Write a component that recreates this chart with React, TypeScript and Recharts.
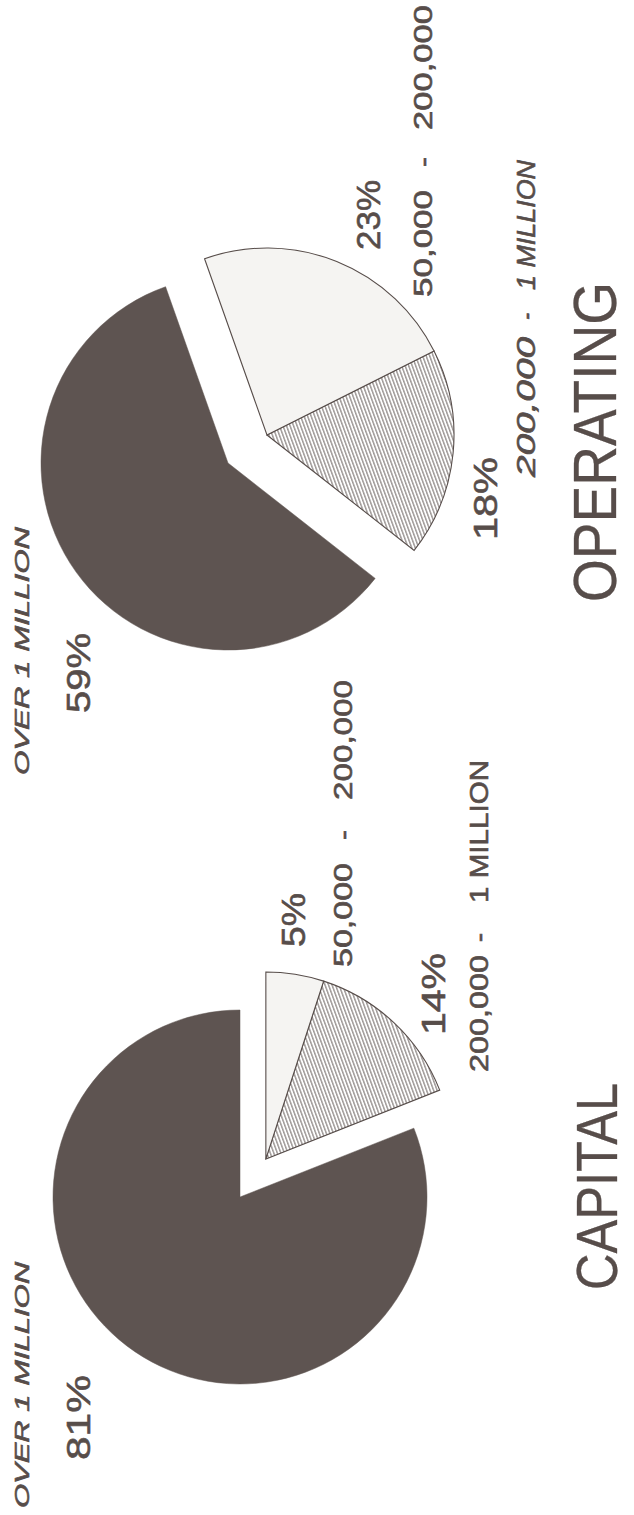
import { PieChart, Pie, Cell } from "recharts";

// data
const CATEGORIES = ["OVER 1 MILLION", "200,000 - 1 MILLION", "50,000 - 200,000"];
const CAPITAL = [81, 14, 5];
const OPERATING = [59, 18, 23];
const TITLES = ["CAPITAL", "OPERATING"];

const INK = "#574d4a";
const DARK = "#5e5451";
const LIGHT = "#f5f4f2";
const FONT = "'Liberation Sans', Arial, Helvetica, sans-serif";

// the chart is laid out in landscape (1515 x 634) and turned a quarter to the left
const W = 1515;
const H = 634;
const R = 187;

const LAYOUT = [
  {
    values: CAPITAL,
    title: TITLES[0],
    cx: 318,
    cy: 240,
    start: 0,
    explode: 46,
    titlePos: [225, 432, 617, 58],
    pct: [
      [55, 140, 90],
      [480, 562, 445],
      [568, 622, 305],
    ],
    names: [
      { base: 29, size: 20, italic: true, parts: [[7, 253]] },
      { base: 488, size: 25, italic: false, parts: [[443, 560], [573, 582], [612, 755]] },
      { base: 352, size: 25, italic: false, parts: [[548, 652], [675, 685], [715, 835]] },
    ],
  },
  {
    values: OPERATING,
    title: TITLES[1],
    cx: 1052,
    cy: 228,
    start: 19.5,
    explode: 48,
    titlePos: [913, 1233, 616, 62],
    pct: [
      [802, 882, 90],
      [975, 1058, 497],
      [1265, 1335, 380],
    ],
    names: [
      { base: 29, size: 20, italic: true, parts: [[740, 988]] },
      { base: 535, size: 25, italic: true, parts: [[1038, 1178], [1195, 1202], [1225, 1355]] },
      { base: 432, size: 25, italic: false, parts: [[1218, 1325], [1348, 1358], [1385, 1510]] },
    ],
  },
];

// centre of the pulled-out wedge, along the middle of the two small slices
const explodedCenter = (values: number[], start: number, cx: number, cy: number, d: number) => {
  const total = values.reduce((a, b) => a + b, 0);
  const big = (values[0] / total) * 360;
  const mid = ((start + big + (360 - big) / 2) * Math.PI) / 180;
  return [cx + d * Math.cos(mid), cy - d * Math.sin(mid)];
};

const fills = [DARK, "url(#hatch)", LIGHT];

const App = () => {
  return (
    <div
      style={{
        position: "absolute",
        left: 0,
        top: 0,
        width: H,
        height: W,
        overflow: "hidden",
        background: "#fff",
      }}
    >
      <div
        style={{
          position: "absolute",
          left: 0,
          top: 0,
          width: W,
          height: H,
          transformOrigin: "0 0",
          transform: `translate(0px, ${W}px) rotate(-90deg)`,
        }}
      >
        <PieChart width={W} height={H} margin={{ top: 0, right: 0, bottom: 0, left: 0 }}>
          <defs>
            <pattern
              id="hatch"
              patternUnits="userSpaceOnUse"
              width={3.3}
              height={3.3}
              patternTransform="rotate(70)"
            >
              <rect width={3.3} height={3.3} fill="#ffffff" />
              <line x1={1.6} y1={-1} x2={1.6} y2={4.3} stroke={INK} strokeWidth={0.85} />
            </pattern>
          </defs>
          {LAYOUT.map((c, k) => {
            const data = c.values.map((v, i) => ({ name: CATEGORIES[i], value: v }));
            const [ex, ey] = explodedCenter(c.values, c.start, c.cx, c.cy, c.explode);
            return [
              <Pie
                key={`main-${k}`}
                data={data}
                dataKey="value"
                cx={c.cx}
                cy={c.cy}
                outerRadius={R}
                startAngle={c.start}
                endAngle={c.start + 360}
                isAnimationActive={false}
                label={false}
                labelLine={false}
              >
                {data.map((_, i) => (
                  <Cell
                    key={`m-${i}`}
                    fill={i === 0 ? DARK : "none"}
                    stroke={i === 0 ? DARK : "none"}
                    strokeWidth={0.5}
                  />
                ))}
              </Pie>,
              <Pie
                key={`out-${k}`}
                data={data}
                dataKey="value"
                cx={ex}
                cy={ey}
                outerRadius={R}
                startAngle={c.start}
                endAngle={c.start + 360}
                isAnimationActive={false}
                label={false}
                labelLine={false}
              >
                {data.map((_, i) => (
                  <Cell
                    key={`o-${i}`}
                    fill={i === 0 ? "none" : fills[i]}
                    stroke={i === 0 ? "none" : INK}
                    strokeWidth={1.1}
                  />
                ))}
              </Pie>,
            ];
          })}
        </PieChart>
        <svg
          width={W}
          height={H}
          style={{ position: "absolute", left: 0, top: 0 }}
          fontFamily={FONT}
          fill={INK}
          stroke={INK}
        >
          {LAYOUT.map((c, k) => (
            <g key={`labels-${k}`}>
              <text
                x={c.titlePos[0]}
                y={c.titlePos[2]}
                fontSize={c.titlePos[3]}
                strokeWidth={0.3}
                textLength={c.titlePos[1] - c.titlePos[0]}
                lengthAdjust="spacingAndGlyphs"
              >
                {c.title}
              </text>
              {c.values.map((v, i) => (
                <text
                  key={`p-${i}`}
                  x={c.pct[i][0]}
                  y={c.pct[i][2]}
                  fontSize={34}
                  strokeWidth={0.6}
                  textLength={c.pct[i][1] - c.pct[i][0]}
                  lengthAdjust="spacingAndGlyphs"
                >
                  {`${v}%`}
                </text>
              ))}
              {CATEGORIES.map((name, i) => {
                const n = c.names[i];
                const bits = name.split(" - ");
                const pieces = bits.length > 1 ? [bits[0], "-", bits[1]] : bits;
                return pieces.map((t, j) => (
                  <text
                    key={`n-${i}-${j}`}
                    x={n.parts[j][0]}
                    y={n.base}
                    fontSize={n.size}
                    fontStyle={n.italic ? "italic" : "normal"}
                    strokeWidth={0.6}
                    textLength={n.parts[j][1] - n.parts[j][0]}
                    lengthAdjust="spacingAndGlyphs"
                  >
                    {t}
                  </text>
                ));
              })}
            </g>
          ))}
        </svg>
      </div>
    </div>
  );
};

export default App;
